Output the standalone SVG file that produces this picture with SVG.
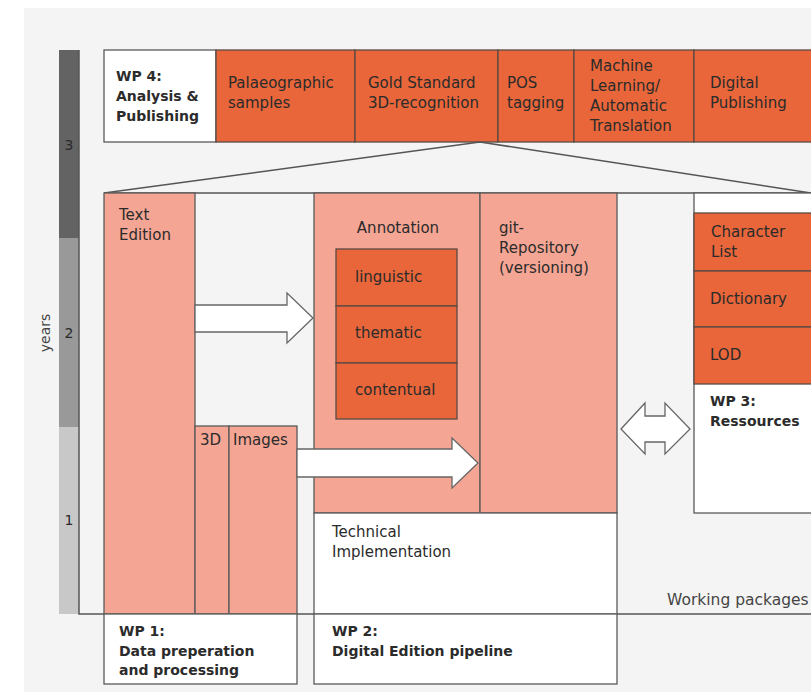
<svg xmlns="http://www.w3.org/2000/svg" width="811" height="693" viewBox="0 0 811 693">
<style>
text{font-family:"DejaVu Sans","Liberation Sans",sans-serif;font-size:15px;fill:#2b2b2b}
.b{font-weight:bold;font-size:14px}
.o{fill:#e8663a;stroke:#5a4a44;stroke-width:1.3}
.s{fill:#f4a593;stroke:#5a5a5a;stroke-width:1.3}
.w{fill:#ffffff;stroke:#5a5a5a;stroke-width:1.3}
.ln{fill:none;stroke:#555;stroke-width:1.5}
.ar{fill:#ffffff;stroke:#666;stroke-width:1.3;stroke-linejoin:miter}
.ax{font-size:14px;fill:#444}
.yr{font-size:14px;fill:#2a2a2a;text-anchor:middle}
</style>
<rect x="0" y="0" width="811" height="693" fill="#ffffff"/>
<rect x="24" y="8" width="787" height="684" fill="#f4f4f4"/>

<g id="years-axis">
<rect x="59" y="50" width="20" height="188" fill="#636363"/>
<rect x="59" y="238" width="20" height="189" fill="#999999"/>
<rect x="59" y="427" width="20" height="187" fill="#c8c8c8"/>
<text class="yr" x="69" y="150">3</text>
<text class="yr" x="69" y="338">2</text>
<text class="yr" x="69" y="525">1</text>
<text class="ax" transform="translate(50,333) rotate(-90)" text-anchor="middle">years</text>
</g>

<g id="axes">
<path class="ln" d="M79,50 V614 H811"/>
<text class="ax" x="667" y="605" style="font-size:15.5px">Working packages</text>
</g>

<g id="wp4">
<rect class="w" x="104" y="50" width="112" height="92"/>
<text class="b" x="116" y="81">WP 4:</text>
<text class="b" x="116" y="101">Analysis &amp;</text>
<text class="b" x="116" y="121">Publishing</text>
</g>
<g id="palaeographic">
<rect class="o" x="216" y="50" width="139" height="92"/>
<text x="228" y="88">Palaeographic</text>
<text x="228" y="108">samples</text>
</g>
<g id="gold-standard">
<rect class="o" x="355" y="50" width="143" height="92"/>
<text x="368" y="88">Gold Standard</text>
<text x="368" y="108">3D-recognition</text>
</g>
<g id="pos">
<rect class="o" x="498" y="50" width="76" height="92"/>
<text x="507" y="88">POS</text>
<text x="507" y="108">tagging</text>
</g>
<g id="machine-learning">
<rect class="o" x="574" y="50" width="120" height="92"/>
<text x="590" y="71">Machine</text>
<text x="590" y="91">Learning/</text>
<text x="590" y="111">Automatic</text>
<text x="590" y="131">Translation</text>
</g>
<g id="digital-publishing">
<rect class="o" x="694" y="50" width="130" height="92"/>
<text x="710" y="88">Digital</text>
<text x="710" y="108">Publishing</text>
</g>

<g id="funnel">
<path class="ln" d="M104,193 L480,142 L811,193"/>
<path class="ln" d="M104,193 H811"/>
</g>

<g id="wp1">
<rect class="s" x="104" y="193" width="91" height="421"/>
<text x="119" y="220">Text</text>
<text x="119" y="240">Edition</text>
<rect class="s" x="195" y="426" width="34" height="188"/>
<text x="200" y="445">3D</text>
<rect class="s" x="229" y="426" width="68" height="188"/>
<text x="233" y="445">Images</text>
<rect class="w" x="104" y="614" width="193" height="70"/>
<text class="b" x="119" y="636">WP 1:</text>
<text class="b" x="119" y="656">Data preperation</text>
<text class="b" x="119" y="675">and processing</text>
</g>

<g id="wp2">
<rect class="s" x="314" y="193" width="166" height="320"/>
<text x="398" y="233" text-anchor="middle">Annotation</text>
<rect class="o" x="336" y="249" width="121" height="57"/>
<text x="355" y="282">linguistic</text>
<rect class="o" x="336" y="306" width="121" height="57"/>
<text x="355" y="338">thematic</text>
<rect class="o" x="336" y="363" width="121" height="56"/>
<text x="355" y="395">contentual</text>
<rect class="s" x="480" y="193" width="137" height="320"/>
<text x="499" y="233">git-</text>
<text x="499" y="253">Repository</text>
<text x="499" y="273">(versioning)</text>
<rect class="w" x="314" y="513" width="303" height="101"/>
<text x="332" y="537">Technical</text>
<text x="332" y="557">Implementation</text>
<rect class="w" x="314" y="614" width="303" height="70"/>
<text class="b" x="332" y="636">WP 2:</text>
<text class="b" x="332" y="656">Digital Edition pipeline</text>
</g>

<g id="wp3">
<rect class="w" x="694" y="193" width="130" height="320"/>
<rect class="o" x="694" y="213" width="130" height="58"/>
<text x="711" y="237">Character</text>
<text x="711" y="257">List</text>
<rect class="o" x="694" y="271" width="130" height="56"/>
<text x="710" y="304">Dictionary</text>
<rect class="o" x="694" y="327" width="130" height="57"/>
<text x="710" y="360">LOD</text>
<text class="b" x="710" y="406">WP 3:</text>
<text class="b" x="710" y="426">Ressources</text>
</g>

<g id="connectors">
<path class="ar" d="M195,305 H287 V293 L313,318 L287,343 V332 H195 Z"/>
<path class="ar" d="M297,449 H452 V438 L478,463 L452,488 V477 H297 Z"/>
<path class="ar" d="M621,429 L645,403 V416 H665 V403 L690,429 L665,454 V442 H645 V454 Z"/>
</g>
</svg>
